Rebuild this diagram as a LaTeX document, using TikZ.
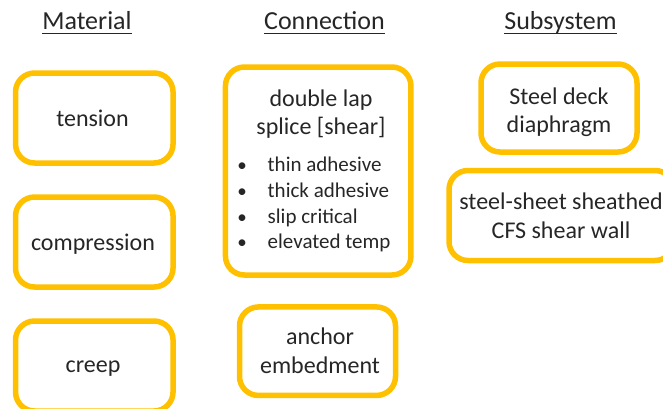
\documentclass[tikz,border=0pt]{standalone}
\usepackage{fontspec}
\setmainfont{Carlito}
\definecolor{gold}{HTML}{FFC000}
\definecolor{ink}{HTML}{262626}
\begin{document}
\begin{tikzpicture}[x=1pt,y=-1pt,
  box/.style={draw=gold, line width=5.5pt, rounded corners=19pt, inner sep=0pt, outer sep=0pt},
  txt/.style={inner sep=0pt, anchor=base, text=ink, font=\fontsize{24}{28}\selectfont},
  bul/.style={inner sep=0pt, anchor=base west, text=ink, font=\fontsize{21}{24}\selectfont},
  dot/.style={inner sep=0pt, anchor=base, text=ink, font=\fontsize{19}{24}\selectfont},
  hdr/.style={inner sep=0pt, anchor=base, text=ink, font=\fontsize{26}{30}\selectfont}]
\useasboundingbox (0,0) rectangle (663,408);
\clip (0,0) rectangle (663,408);
% headers
\node[hdr] (hm) at (87,29.3) {Material};
\node[hdr] (hc) at (324.5,29.3) {Connection};
\node[hdr] (hs) at (560.5,29.3) {Subsystem};
\foreach \h in {hm,hc,hs}{
  \draw[ink, line width=1.3pt] ([yshift=-4pt]\h.base west) -- ([yshift=-4pt]\h.base east);
}
% material boxes
\node[box, minimum width=157.5pt, minimum height=90pt] (bt) at (94.3,118) {};
\node[txt] (tt) at (92.5,126.7) {tension};
\node[box, minimum width=157.5pt, minimum height=90pt] (bc) at (94.3,242) {};
\node[txt] (tc) at (93,250) {compression};
\node[box, minimum width=157.5pt, minimum height=90pt] (bk) at (94.3,366) {};
\node[txt] (tk) at (93,372.7) {creep};
% connection boxes
\node[box, minimum width=185.5pt, minimum height=208pt] (bd) at (318.2,171) {};
\node[txt] (td1) at (321,106) {double lap};
\node[txt] (td2) at (321,134) {splice [shear]};
\node[bul] (l1) at (267.5,171.7) {thin adhesive};
\node[bul] (l2) at (267.5,197) {thick adhesive};
\node[bul] (l3) at (267.5,223) {slip critical};
\node[bul] (l4) at (267.5,248.5) {elevated temp};
\foreach \l in {l1,l2,l3,l4}{
  \node[dot] at ([xshift=-25.5pt]\l.base west) {•};
}
\node[box, minimum width=156pt, minimum height=88.5pt] (ba) at (317.5,351.2) {};
\node[txt] (ta1) at (320,344) {anchor};
\node[txt] (ta2) at (320,373) {embedment};
% subsystem boxes
\node[box, minimum width=156pt, minimum height=88pt] (bs) at (559,108) {};
\node[txt] (ts1) at (559,104) {Steel deck};
\node[txt] (ts2) at (559,132) {diaphragm};
\node[box, minimum width=225pt, minimum height=90pt] (bw) at (561.5,215.5) {};
\node[txt] (tw1) at (561,209) {steel-sheet sheathed};
\node[txt] (tw2) at (561,238) {CFS shear wall};
\end{tikzpicture}
\end{document}
